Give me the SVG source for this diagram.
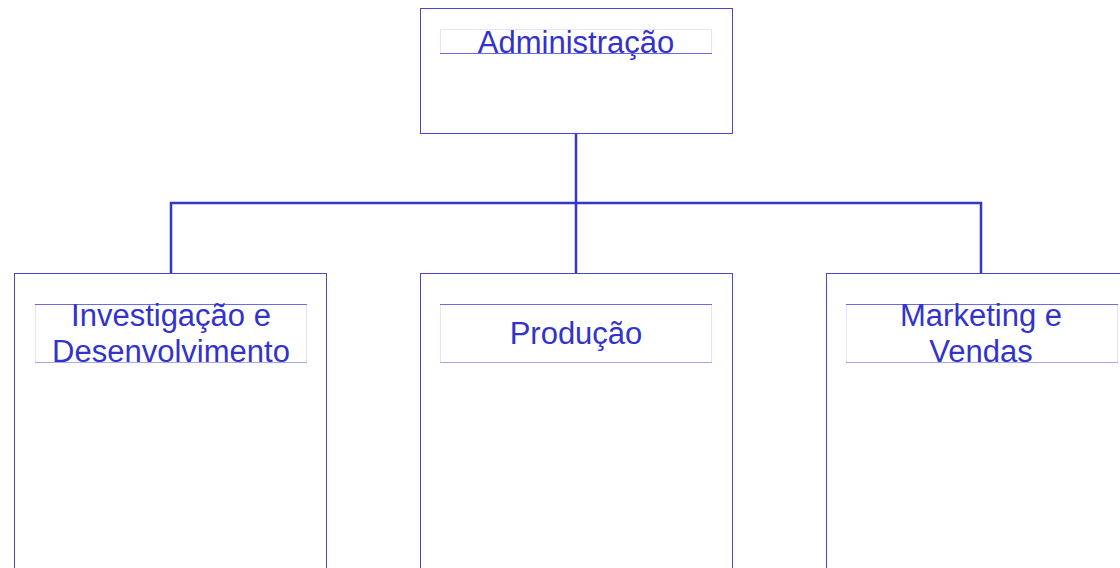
<svg xmlns="http://www.w3.org/2000/svg" width="1120" height="568" viewBox="0 0 1120 568">
<style>
.box{fill:#fff;stroke:#4646d2;stroke-width:1}
.frame{fill:none;stroke:#e4e4f8;stroke-width:1}
.edge{stroke:#6b6be0;stroke-width:1}
.edge2{stroke:#a8a8ee;stroke-width:1}
.lbl{font-family:"Liberation Sans",Arial,sans-serif;font-size:31px;fill:#3333cc;text-anchor:middle}
.conn{fill:none;stroke:#3535c8;stroke-width:2.5}
</style>
<rect width="1120" height="568" fill="#fff"/>
<g id="connectors">
<path class="conn" d="M576 133V273M171 273V203H981V273"/>
</g>
<g id="admin">
<rect class="box" x="420.5" y="8.5" width="312" height="125"/>
<rect class="frame" x="440.5" y="29.5" width="271" height="24"/>
<text class="lbl" x="576" y="53">Administração</text>
<line class="edge" x1="440" y1="53.5" x2="712" y2="53.5"/>
</g>
<g id="id">
<rect class="box" x="14.5" y="273.5" width="312" height="300"/>
<rect class="frame" x="35.5" y="304.5" width="271" height="58"/>
<line class="edge" x1="35" y1="304.5" x2="307" y2="304.5"/>
<line class="edge2" x1="35" y1="362.5" x2="307" y2="362.5"/>
<text class="lbl" x="171" y="326">Investigação e</text>
<text class="lbl" x="171" y="362">Desenvolvimento</text>
</g>
<g id="producao">
<rect class="box" x="420.5" y="273.5" width="312" height="300"/>
<rect class="frame" x="440.5" y="304.5" width="271" height="58"/>
<line class="edge" x1="440" y1="304.5" x2="712" y2="304.5"/>
<line class="edge2" x1="440" y1="362.5" x2="712" y2="362.5"/>
<text class="lbl" x="576" y="344">Produção</text>
</g>
<g id="marketing">
<rect class="box" x="826.5" y="273.5" width="312" height="300"/>
<rect class="frame" x="846.5" y="304.5" width="271" height="58"/>
<line class="edge" x1="846" y1="304.5" x2="1118" y2="304.5"/>
<line class="edge2" x1="846" y1="362.5" x2="1118" y2="362.5"/>
<text class="lbl" x="981" y="326">Marketing e</text>
<text class="lbl" x="981" y="362">Vendas</text>
</g>
</svg>
